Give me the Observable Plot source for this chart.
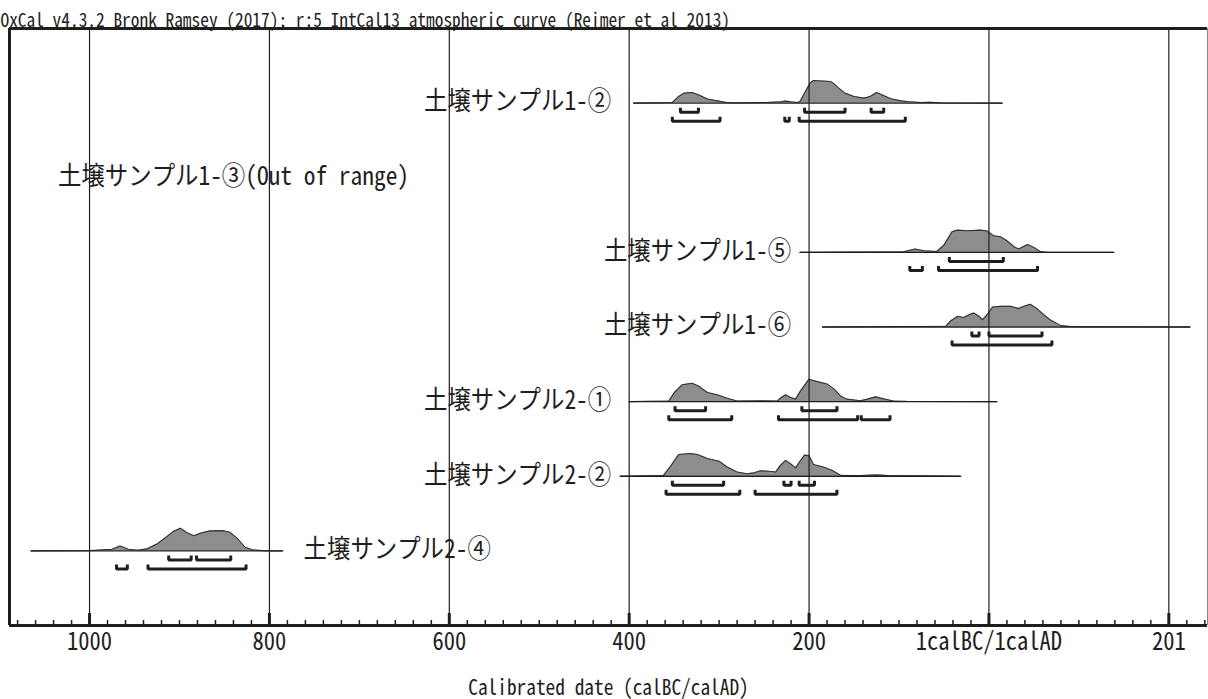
<!DOCTYPE html>
<html><head><meta charset="utf-8">
<script src="https://cdn.jsdelivr.net/npm/d3@7"></script>
<script src="https://cdn.jsdelivr.net/npm/@observablehq/plot@0.6"></script>
<style>
html,body{margin:0;padding:0;background:#fff;}
#chart svg{display:block;}
</style></head><body><div id="chart"></div>
<script>
// ---------------- DATA ----------------
const titleText = "OxCal v4.3.2 Bronk Ramsey (2017); r:5 IntCal13 atmospheric curve (Reimer et al 2013)";
const axisTitle = "Calibrated date (calBC/calAD)";
const sampleLabels = ["土壌サンプル1-②","土壌サンプル1-③(Out of range)","土壌サンプル1-⑤","土壌サンプル1-⑥","土壌サンプル2-①","土壌サンプル2-②","土壌サンプル2-④"];
// years: BC negative, 0 = 1calBC/1calAD boundary
const majorTicks = [-1000,-800,-600,-400,-200,0,200];
const minorTicks = d3.range(-1080, 241, 20);
const tickLabel = t => t < 0 ? String(-t) : t === 0 ? "1calBC/1calAD" : String(t + 1);

// relative probability (peak = 100)
const dens1_2 = [[-395,0],[-352,3],[-345,29],[-339,44],[-330,47],[-323,37],[-313,18],[-302,10],[-293,4],[-284,1],[-247,3],[-232,6],[-226,9],[-221,6],[-213,3],[-210,7],[-204,51],[-199,88],[-195,100],[-176,95],[-173,88],[-167,66],[-160,44],[-150,29],[-139,22],[-132,29],[-125,47],[-119,37],[-109,19],[-98,10],[-89,6],[-76,3],[-65,4],[-54,1],[15,0]];
const dens1_5 = [[-210,0],[-95,3],[-82,15],[-72,7],[-58,4],[-50,32],[-41,91],[-35,98],[-24,95],[-9,98],[-2,94],[5,73],[13,69],[20,51],[28,25],[33,15],[43,35],[50,22],[57,4],[65,0],[139,0]];
const dens1_6 = [[-185,0],[-48,3],[-43,25],[-35,47],[-28,42],[-22,54],[-17,62],[-11,47],[-7,32],[-2,54],[4,88],[13,91],[24,91],[33,81],[39,91],[46,100],[54,79],[61,54],[68,32],[80,6],[94,1],[120,1],[224,0]];
const dens2_1 = [[-400,0],[-356,3],[-349,44],[-341,74],[-330,81],[-323,69],[-313,40],[-302,30],[-291,15],[-280,3],[-254,4],[-235,3],[-232,15],[-226,30],[-221,19],[-215,11],[-210,44],[-200,99],[-191,88],[-180,78],[-172,55],[-165,25],[-158,11],[-143,4],[-135,11],[-126,21],[-117,12],[-106,3],[-91,1],[9,0]];
const dens2_2 = [[-410,0],[-362,3],[-354,44],[-345,96],[-332,100],[-324,96],[-313,78],[-300,66],[-291,41],[-280,19],[-269,11],[-261,15],[-254,24],[-245,22],[-237,19],[-232,47],[-226,70],[-221,56],[-215,37],[-210,66],[-205,93],[-200,91],[-195,52],[-184,41],[-174,25],[-165,4],[-143,3],[-124,6],[-113,3],[-31,0]];
const dens2_4 = [[-1065,0],[-999,1],[-975,7],[-966,21],[-957,7],[-947,3],[-936,9],[-925,30],[-914,63],[-907,85],[-899,100],[-892,81],[-884,67],[-877,78],[-866,88],[-851,89],[-844,82],[-836,56],[-827,16],[-818,4],[-803,0],[-785,0]];

// 68.2% and 95.4% ranges
const r68_1_2 = [[-343,-323],[-205,-160],[-131,-117]];
const r95_1_2 = [[-352,-299],[-227,-222],[-211,-93]];
const r68_1_5 = [[-44,16]];
const r95_1_5 = [[-88,-74],[-56,54]];
const r68_1_6 = [[-19,-11],[0,59]];
const r95_1_6 = [[-41,70]];
const r68_2_1 = [[-349,-315],[-208,-169]];
const r95_2_1 = [[-356,-286],[-234,-146],[-142,-110]];
const r68_2_2 = [[-352,-295],[-228,-220],[-211,-194]];
const r95_2_2 = [[-359,-277],[-260,-169]];
const r68_2_4 = [[-912,-887],[-881,-843]];
const r95_2_4 = [[-970,-958],[-935,-826]];

// ---------------- LAYOUT ----------------
const W = 1208, H = 699;
const mTop = 28, mBottom = 74, mLeft = 9, mRight = 1;
const xDomain = [-1089, 243];
const ROWPX = (H - mTop - mBottom) / 8;
const PEAK = 22.7 / ROWPX;
const OFF68 = 9 / ROWPX, OFF95 = 18 / ROWPX, RISE = 4.5 / ROWPX;
const FONT = "'Noto Sans Mono CJK JP','Noto Sans CJK JP','DejaVu Sans Mono',sans-serif";
const INK = "#1e1e1e";

const rows = [
  {row:0, dens:dens1_2, r68:r68_1_2, r95:r95_1_2, lx:-420, anchor:"end"},
  {row:1, dens:null, r68:[], r95:[], lx:-1035, anchor:"start"},
  {row:2, dens:dens1_5, r68:r68_1_5, r95:r95_1_5, lx:-220, anchor:"end"},
  {row:3, dens:dens1_6, r68:r68_1_6, r95:r95_1_6, lx:-220, anchor:"end"},
  {row:4, dens:dens2_1, r68:r68_2_1, r95:r95_2_1, lx:-420, anchor:"end"},
  {row:5, dens:dens2_2, r68:r68_2_2, r95:r95_2_2, lx:-420, anchor:"end"},
  {row:6, dens:dens2_4, r68:r68_2_4, r95:r95_2_4, lx:-762, anchor:"start"}
];
rows.forEach((r,i) => r.label = sampleLabels[i]);

const areaData = rows.filter(r => r.dens).flatMap(r => r.dens.map(([t,p]) => ({row:r.row, t, p})));
const spanData = rows.filter(r => r.dens).map(r => ({row:r.row, a:r.dens[0][0], b:r.dens[r.dens.length-1][0]}));
let bid = 0;
const bracketPts = rows.flatMap(r => [
  ...r.r68.map(rg => ({rg, off:OFF68})), ...r.r95.map(rg => ({rg, off:OFF95}))
].flatMap(({rg, off}) => {
  const id = bid++, y = r.row + off;
  return [{id, x:rg[0], y:y - RISE}, {id, x:rg[0], y}, {id, x:rg[1], y}, {id, x:rg[1], y:y - RISE}];
}));

const chart = Plot.plot({
  width: W, height: H,
  marginTop: mTop, marginBottom: mBottom, marginLeft: mLeft, marginRight: mRight,
  x: {domain: xDomain, axis: null},
  y: {domain: [7, -1], axis: null},
  style: {background: "#fff", overflow: "visible"},
  marks: [
    Plot.areaY(areaData, {x:"t", y1:"row", y2: d => d.row - d.p/100*PEAK, z:"row", fill:"#8d8d8d", curve:"linear"}),
    Plot.line(areaData, {x:"t", y: d => d.row - d.p/100*PEAK, z:"row", stroke:"#333", strokeWidth:1.1, curve:"linear"}),
    Plot.ruleY(spanData, {x1:"a", x2:"b", y:"row", stroke:INK, strokeWidth:1.3}),
    Plot.line(bracketPts, {x:"x", y:"y", z:"id", stroke:INK, strokeWidth:3, strokeLinejoin:"miter", strokeLinecap:"butt"}),
    Plot.ruleX(majorTicks, {stroke:INK, strokeWidth:1.2}),
    Plot.ruleX(minorTicks, {x: d => d, y1: 7, y2: 7 - 5/ROWPX, stroke:INK, strokeWidth:1.5}),
    Plot.ruleX(majorTicks, {x: d => d, y1: 7, y2: 7 - 12/ROWPX, stroke:INK, strokeWidth:3}),
    Plot.ruleY([-1], {stroke:INK, strokeWidth:3}),
    Plot.ruleY([7], {stroke:INK, strokeWidth:3}),
    Plot.ruleX([xDomain[0]], {stroke:INK, strokeWidth:3}),
    Plot.ruleX([xDomain[1]], {stroke:"#888", strokeWidth:1}),
    Plot.text(majorTicks, {x: d => d, y: 7, text: tickLabel, dy: 7, lineAnchor:"top", textAnchor:"middle", fontSize:25, fontFamily:FONT, fill:INK}),
    Plot.text(rows.filter(r => r.anchor === "end"), {x:"lx", y:"row", text:"label", dy:-1, lineAnchor:"middle", textAnchor:"end", fontSize:26, fontFamily:FONT, fill:INK}),
    Plot.text(rows.filter(r => r.anchor === "start"), {x:"lx", y:"row", text:"label", dy:-1, lineAnchor:"middle", textAnchor:"start", fontSize:26, fontFamily:FONT, fill:INK}),
    Plot.text([titleText], {frameAnchor:"top-left", dx:-9, dy:-1.5, lineAnchor:"bottom", textAnchor:"start", fontSize:19.3, fontFamily:FONT, fill:INK}),
    Plot.text([axisTitle], {frameAnchor:"bottom", dy:69, lineAnchor:"bottom", textAnchor:"middle", fontSize:21.5, fontFamily:FONT, fill:INK})
  ]
});
document.getElementById("chart").appendChild(chart);

// squeeze glyphs horizontally to the half-/full-width proportions of the original
const SQUEEZE = 0.9;
chart.querySelectorAll("text").forEach(el => {
  const s = el.textContent;
  const fs = parseFloat(getComputedStyle(el).fontSize);
  let em = 0;
  for (const ch of s) em += ch.codePointAt(0) > 0x2000 ? 1 : 0.5;
  el.setAttribute("textLength", (em * fs * SQUEEZE).toFixed(1));
  el.setAttribute("lengthAdjust", "spacingAndGlyphs");
});
</script></body></html>
